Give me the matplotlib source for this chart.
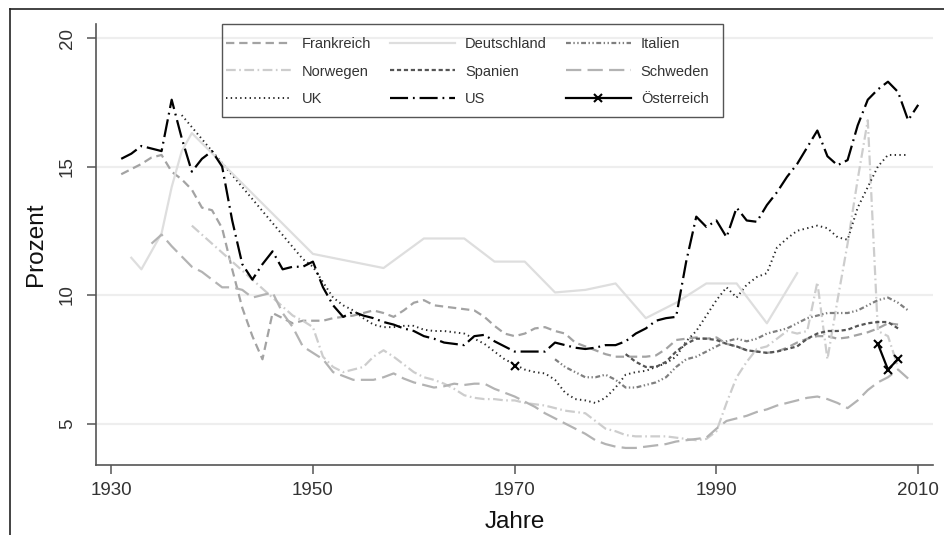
import numpy as np
import matplotlib
matplotlib.use("Agg")
import matplotlib.pyplot as plt
from matplotlib.lines import Line2D
from matplotlib.patches import Rectangle

plt.rcParams['font.family'] = ['Liberation Sans', 'DejaVu Sans']
plt.rcParams['lines.scale_dashes'] = False

# Top-1%-Anteile (Prozent)
us_years = np.arange(1931, 2011)
us_vals = [15.3, 15.5, 15.8, 15.7, 15.6, 17.6, 16.1, 14.8, 15.3, 15.6,
           15.0, 12.9, 11.2, 10.6, 11.2, 11.7, 11.0, 11.1, 11.1, 11.3,
           10.3, 9.6, 9.15, 9.35, 9.2, 9.1, 8.95, 8.85, 8.7, 8.6,
           8.4, 8.3, 8.15, 8.1, 8.05, 8.4, 8.45, 8.2, 8.0, 7.8,
           7.8, 7.8, 7.8, 8.15, 8.05, 7.95, 7.9, 7.95, 8.05, 8.05,
           8.2, 8.5, 8.7, 9.0, 9.1, 9.15, 11.3, 13.05, 12.65, 12.9,
           12.25, 13.4, 12.9, 12.85, 13.5, 14.0, 14.6, 15.1, 15.75, 16.4,
           15.4, 15.05, 15.25, 16.6, 17.6, 18.0, 18.3, 17.9, 16.8, 17.4]

uk_years = [1937] + list(range(1949, 2010))
uk_vals = [17.0, 11.4, 11.1,
           10.5, 9.9, 9.6, 9.4, 9.1, 8.85, 8.75, 8.75, 8.8, 8.8,
           8.65, 8.6, 8.6, 8.55, 8.5, 8.3, 8.1, 7.8, 7.5, 7.3,
           7.1, 7.0, 6.95, 6.7, 6.2, 5.95, 5.9, 5.8, 6.0, 6.4,
           6.9, 7.0, 7.05, 7.2, 7.35, 7.6, 8.2, 8.6, 9.2, 9.8,
           10.3, 9.9, 10.4, 10.7, 10.85, 11.85, 12.2, 12.5, 12.6, 12.7,
           12.6, 12.25, 12.15, 13.4, 14.2, 15.0, 15.45, 15.45, 15.45]

fr_years = np.arange(1931, 2009)
fr_vals = [14.7, 14.9, 15.1, 15.35, 15.45, 14.8, 14.5, 14.1, 13.4, 13.3,
           12.6, 11.0, 9.5, 8.4, 7.5, 9.3, 9.1, 8.9, 9.0, 9.0,
           9.0, 9.1, 9.15, 9.2, 9.3, 9.4, 9.3, 9.15, 9.4, 9.7,
           9.8, 9.6, 9.55, 9.5, 9.45, 9.4, 9.15, 8.8, 8.5, 8.4,
           8.5, 8.7, 8.75, 8.6, 8.5, 8.15, 8.0, 7.85, 7.7, 7.6,
           7.6, 7.6, 7.6, 7.65, 7.9, 8.25, 8.3, 8.35, 8.3, 8.35,
           8.1, 8.0, 7.85, 7.8, 7.75, 7.8, 7.95, 8.15, 8.3, 8.4,
           8.4, 8.3, 8.35, 8.45, 8.55, 8.7, 8.9, 8.85]

de_years = [1932, 1933, 1934, 1935, 1936, 1937, 1938, 1950, 1957, 1961, 1965,
            1968, 1971, 1974, 1977, 1980, 1983, 1986, 1989, 1992, 1995, 1998]
de_vals = [11.45, 11.0, 11.7, 12.4, 14.2, 15.6, 16.3, 11.6, 11.05, 12.2, 12.2,
           11.3, 11.3, 10.1, 10.2, 10.45, 9.1, 9.7, 10.45, 10.45, 8.9, 10.85]

it_years = np.arange(1974, 2010)
it_vals = [7.5, 7.2, 7.0, 6.8, 6.8, 6.9, 6.7,
           6.4, 6.4, 6.5, 6.6, 6.8, 7.2, 7.5, 7.6, 7.8, 8.0,
           8.2, 8.3, 8.2, 8.3, 8.5, 8.6, 8.7, 8.9, 9.1, 9.2,
           9.3, 9.3, 9.3, 9.4, 9.6, 9.8, 9.9, 9.7, 9.4]

no_years = [1938] + list(range(1948, 2009))
no_vals = [12.7, 9.2, 9.0, 8.75,
           7.6, 7.2, 7.0, 7.1, 7.2, 7.6, 7.85, 7.6, 7.3, 7.0,
           6.8, 6.7, 6.55, 6.35, 6.1, 6.0, 5.95, 5.95, 5.9, 5.9,
           5.8, 5.75, 5.7, 5.6, 5.5, 5.45, 5.4, 5.1, 4.8, 4.7,
           4.55, 4.5, 4.5, 4.5, 4.5, 4.45, 4.4, 4.35, 4.4, 4.7,
           5.8, 6.8, 7.4, 7.9, 8.0, 8.3, 8.6, 8.5, 8.6, 10.5,
           7.5, 9.8, 12.0, 14.5, 16.8, 8.6, 8.4, 7.2]

es_years = np.arange(1981, 2009)
es_vals = [7.7, 7.4, 7.2, 7.2, 7.4, 7.8, 8.1, 8.3, 8.3, 8.25,
           8.1, 8.0, 7.85, 7.8, 7.75, 7.8, 7.9, 8.0, 8.3, 8.5,
           8.6, 8.6, 8.65, 8.8, 8.9, 8.95, 8.95, 8.7]

se_years = np.arange(1934, 2010)
se_vals = [12.0, 12.35, 11.9, 11.5, 11.1, 10.9, 10.6,
           10.3, 10.3, 10.2, 9.9, 10.0, 10.1, 9.3, 8.75, 8.0, 7.75,
           7.5, 7.0, 6.85, 6.7, 6.7, 6.7, 6.8, 6.95, 6.75, 6.6,
           6.5, 6.4, 6.45, 6.55, 6.5, 6.55, 6.55, 6.35, 6.2, 6.05,
           5.85, 5.65, 5.4, 5.2, 5.0, 4.8, 4.6, 4.35, 4.2, 4.1,
           4.05, 4.05, 4.1, 4.15, 4.2, 4.3, 4.35, 4.4, 4.45, 4.8,
           5.1, 5.2, 5.3, 5.45, 5.55, 5.7, 5.8, 5.9, 6.0, 6.05,
           5.95, 5.8, 5.6, 5.9, 6.3, 6.6, 6.8, 7.1, 6.75]

at_years = [1970, 1971, 2006, 2007, 2008]
at_vals = [7.25, np.nan, 8.1, 7.1, 7.5]

series = [
    ('Frankreich', fr_years, fr_vals, dict(color='#a3a3a3', dashes=(6, 3.5))),
    ('Norwegen', no_years, no_vals, dict(color='#cdcdcd', dashes=(7, 2.5, 1.2, 2.5))),
    ('UK', uk_years, uk_vals, dict(color='#2a2a2a', lw=1.4, dashes=(1, 2.4))),
    ('Deutschland', de_years, de_vals, dict(color='#dedede')),
    ('Spanien', es_years, es_vals, dict(color='#555555', dashes=(3, 2))),
    ('US', us_years, us_vals, dict(color='#000000', dashes=(13, 3.5, 1.3, 3.5))),
    ('Italien', it_years, it_vals, dict(color='#7f7f7f', dashes=(3.5, 1.8, 1, 1.8, 1, 1.8))),
    ('Schweden', se_years, se_vals, dict(color='#b3b3b3', dashes=(11, 4.5))),
    ('Österreich', at_years, at_vals, dict(color='#000000', marker='x', markersize=6,
                                           markeredgewidth=1.5)),
]

fig = plt.figure(figsize=(9.44, 5.35), dpi=100)
ax = fig.add_axes([0.1017, 0.1308, 0.8867, 0.8243])

for name, xs, ys, style in series:
    style = dict(style)
    lw = style.pop('lw', 1.6)
    ax.plot(xs, ys, lw=lw, label=name, **style)

ax.set_xlim(1928.5, 2011.47)
ax.set_ylim(3.385, 20.545)
ax.set_xticks([1930, 1950, 1970, 1990, 2010])
ax.set_yticks([5, 10, 15, 20])
ax.grid(axis='y', color='#eeeeee', lw=1.6)
ax.set_axisbelow(True)

for side in ['top', 'right']:
    ax.spines[side].set_visible(False)
for side in ['left', 'bottom']:
    ax.spines[side].set_color('#555555')
    ax.spines[side].set_linewidth(1.2)

ax.tick_params(axis='both', direction='out', length=6.5, width=1.1, color='#555555',
               labelcolor='#333333', labelsize=13.5)
ax.tick_params(axis='x', pad=5.5)
ax.tick_params(axis='y', pad=8, labelrotation=90)
for lab in ax.get_yticklabels():
    lab.set_va('center')

ax.set_xlabel('Jahre', fontsize=17.5, color='#111111')
ax.set_ylabel('Prozent', fontsize=17.5, color='#111111')
ax.xaxis.set_label_coords(0.5, -0.105)
ax.yaxis.set_label_coords(-0.058, 0.5)

# Legende ohne eigenen Rahmen, Kasten separat wie in der Vorlage
leg = ax.legend(ncol=3, loc='upper left', bbox_to_anchor=(0.1505, 0.9796), borderaxespad=0,
                fontsize=10.5, frameon=False, handlelength=4.45, handletextpad=0.7,
                columnspacing=1.3, labelspacing=0.9, borderpad=0.3, numpoints=1)
for t in leg.get_texts():
    t.set_color('#333333')
fig.add_artist(Rectangle((222 / 944, 1 - 117 / 535), 501 / 944, 93 / 535,
                         transform=fig.transFigure, fill=False,
                         edgecolor='#555555', lw=1.0, zorder=6))

# Rahmen um die Grafik (oben und links sichtbar)
fig.add_artist(Line2D([10 / 944, 1], [1 - 9 / 535, 1 - 9 / 535], color='#222222', lw=1.2))
fig.add_artist(Line2D([10 / 944, 10 / 944], [0, 1 - 9 / 535], color='#222222', lw=1.2))

fig.savefig('out.png', dpi=100)
